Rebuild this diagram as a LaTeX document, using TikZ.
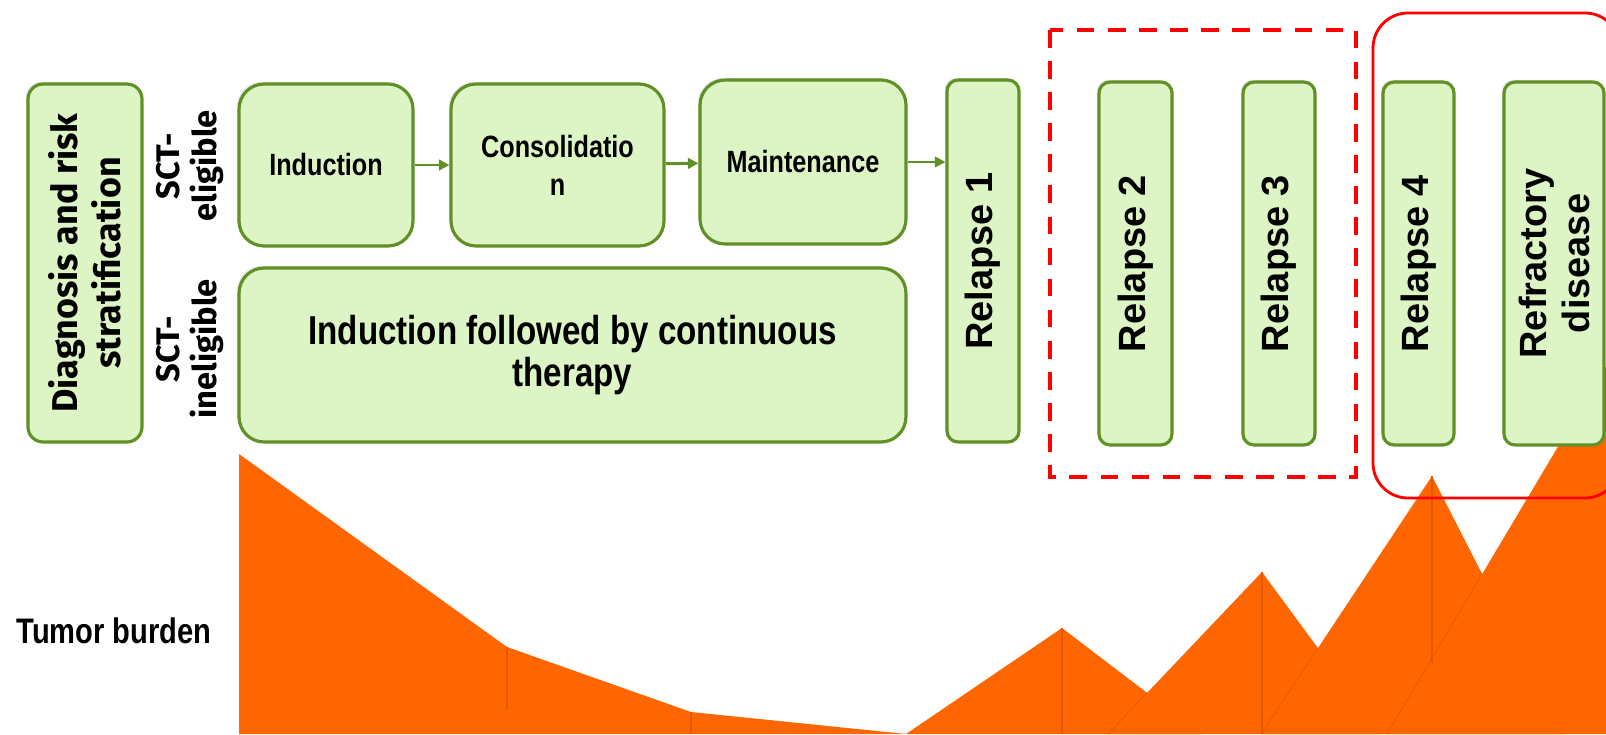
\documentclass[tikz,border=0pt]{standalone}
\usepackage{fontspec}
\setmainfont{Liberation Sans}
\newfontfamily\dinfont{Fira Sans}
\newfontfamily\narrowfont[FakeStretch=0.82]{Liberation Sans}
\usetikzlibrary{arrows.meta,shadows}

\definecolor{phasegreen}{RGB}{96,145,38}
\definecolor{phasefill}{RGB}{221,244,196}
\definecolor{burden}{RGB}{255,102,0}
\definecolor{burdenline}{RGB}{226,88,0}
\definecolor{framered}{RGB}{255,0,0}

\begin{document}
\begin{tikzpicture}[
    x=0.02cm, y=-0.02cm,
    phase/.style={rectangle, draw=phasegreen, line width=1.8pt, fill=phasefill, inner sep=0pt, align=center,
        drop shadow={shadow xshift=-1.2pt, shadow yshift=1.2pt, opacity=0.18}},
    stage/.style={phase, rotate=90, rounded corners=0.22cm, minimum width=7.26cm,
        font=\bfseries\fontsize{21.6}{24.5}\selectfont},
    flow/.style={-{Triangle[length=6pt,width=6pt]}, draw=phasegreen, line width=1.7pt}
]
\useasboundingbox (0,0) rectangle (1606,734);

% Tumor burden
\fill[burden] (239,454) -- (507,647) -- (691,712) -- (906,734) -- (239,734) -- cycle;
\fill[burden] (906,734) -- (1062,628) -- (1201,734) -- cycle;
\fill[burden] (1108,734) -- (1262,572) -- (1381,734) -- cycle;
\fill[burden] (1261,734) -- (1432,476) -- (1564,734) -- cycle;
\fill[burden] (1387,734) -- (1606,366) -- (1606,734) -- cycle;
\draw[burdenline, line width=0.6pt] (507,647) -- (507,710);
\draw[burdenline, line width=0.6pt] (691,712) -- (691,734);
\draw[burdenline, line width=0.6pt] (1062,628) -- (1062,734);
\draw[burdenline, line width=0.6pt] (1262,572) -- (1262,734);
\draw[burdenline, line width=0.6pt] (1432,476) -- (1432,663);
\draw[burdenline, line width=0.4pt] (1108,734) -- (1147,693);
\draw[burdenline, line width=0.4pt] (1261,734) -- (1318,648);
\draw[burdenline, line width=0.4pt] (1387,734) -- (1482,574);

\node[font=\narrowfont\bfseries\fontsize{20.2}{22}\selectfont] (burdenlabel) at (114,631) {Tumor burden};

% Diagnosis
\node[phase, rotate=90, rounded corners=0.3cm, minimum width=7.16cm, minimum height=2.28cm,
      font=\dinfont\bfseries\fontsize{20.4}{24.5}\selectfont] (diagnosis) at (85,263)
    {Diagnosis and risk\\stratification};

% Eligibility
\node[rotate=90, align=center, font=\dinfont\bfseries\fontsize{18.6}{21.5}\selectfont] (eligible) at (190,166) {SCT-\\eligible};
\node[rotate=90, align=center, font=\dinfont\bfseries\fontsize{18.6}{21.5}\selectfont] (ineligible) at (190,349) {SCT-\\ineligible};

% First line therapy
\node[phase, rounded corners=0.5cm, minimum width=3.48cm, minimum height=3.24cm,
      font=\narrowfont\bfseries\fontsize{17.5}{21.5}\selectfont] (induction) at (326,165) {Induction};
\node[phase, rounded corners=0.5cm, minimum width=4.26cm, minimum height=3.24cm,
      font=\narrowfont\bfseries\fontsize{17.5}{21.5}\selectfont] (consolidation) at (557.5,165) {Consolidatio\\n};
\node[phase, rounded corners=0.5cm, minimum width=4.12cm, minimum height=3.28cm,
      font=\narrowfont\bfseries\fontsize{17.5}{21.5}\selectfont] (maintenance) at (803,162) {Maintenance};
\node[phase, rounded corners=0.5cm, minimum width=13.34cm, minimum height=3.48cm,
      font=\narrowfont\bfseries\fontsize{23}{24}\selectfont] (continuous) at (572.5,355)
    {Induction followed by continuous\\therapy};

% Relapses
\node[stage, minimum width=7.24cm, minimum height=1.44cm] (relapse1) at (983,261) {Relapse 1};
\node[stage, minimum height=1.46cm] (relapse2) at (1135.5,263.5) {Relapse 2};
\node[stage, minimum height=1.44cm] (relapse3) at (1279,263.5) {Relapse 3};
\node[stage, minimum height=1.42cm] (relapse4) at (1418.5,263.5) {Relapse 4};
\node[stage, minimum height=2.0cm] (refractory) at (1554,263.5) {Refractory\\disease};

% Frames
\draw[framered, line width=2.2pt, dash pattern=on 10pt off 7.7pt] (1050,30) rectangle (1356,477);
\draw[framered, line width=1.6pt, rounded corners=0.7cm] (1373,13) rectangle (1620,498);

% Arrows
\draw[flow] (induction) -- (consolidation);
\draw[flow] (consolidation) -- (maintenance);
\draw[flow] (maintenance.east) -- (maintenance.east -| relapse1.north);

\end{tikzpicture}
\end{document}
